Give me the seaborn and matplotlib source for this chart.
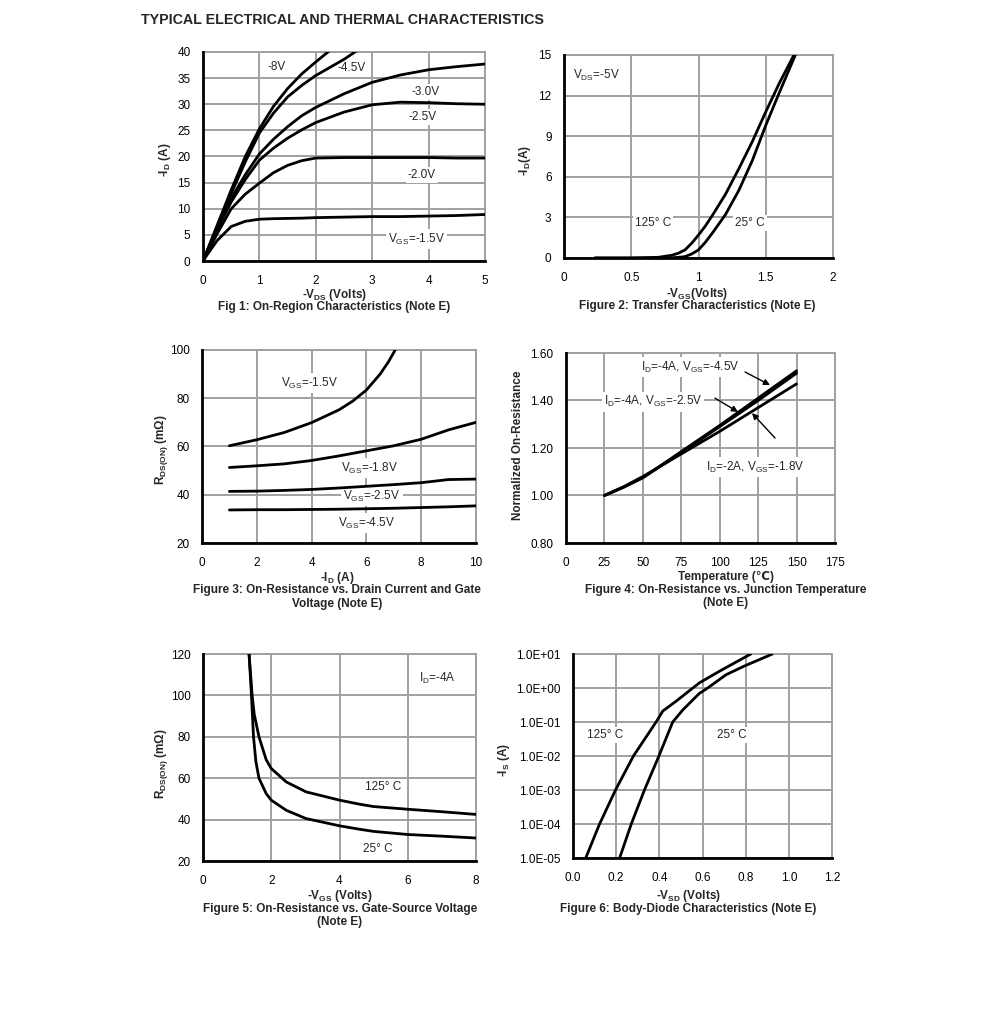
import numpy as np
import pandas as pd
import seaborn as sns
import matplotlib.pyplot as plt
from matplotlib.ticker import FixedLocator, FuncFormatter

sns.set_theme(style="white")
plt.rcParams['font.family'] = ['Liberation Sans', 'DejaVu Sans']
plt.rcParams['mathtext.default'] = 'regular'

W, H = 991, 1021
GRID = '#a0a0a0'
LW = 2.0
TICK_FS = 8.5
LAB_FS = 8.5

# ---- Fig 1: on-region characteristics ----
vds = [0, 0.1, 0.25, 0.5, 0.75, 1, 1.25, 1.5, 1.75, 2, 2.5, 3, 3.5, 4, 4.5, 5]
id_15 = [0, 1.6, 3.9, 6.6, 7.6, 8.0, 8.1, 8.15, 8.2, 8.3, 8.4, 8.5, 8.5, 8.6, 8.7, 8.9]
id_20 = [0, 2.0, 5.2, 10.0, 12.8, 14.9, 16.9, 18.3, 19.2, 19.7, 19.8, 19.8, 19.8, 19.8, 19.7, 19.7]
id_25 = [0, 2.4, 6.0, 11.3, 15.6, 19.3, 21.6, 23.5, 25.1, 26.5, 28.5, 29.9, 30.4, 30.3, 30.1, 30.0]
id_30 = [0, 2.5, 6.3, 12.0, 16.5, 20.5, 23.3, 25.7, 27.8, 29.4, 32.0, 34.2, 35.6, 36.6, 37.2, 37.7]
vds_45 = [0, 0.1, 0.25, 0.5, 0.75, 1, 1.25, 1.5, 1.75, 2, 2.5, 2.75]
id_45 = [0, 2.6, 6.6, 12.9, 19.0, 24.5, 28.3, 31.4, 33.6, 35.5, 38.6, 40.4]
vds_8 = [0, 0.1, 0.25, 0.5, 0.75, 1, 1.25, 1.5, 1.75, 2, 2.25]
id_8 = [0, 2.7, 6.8, 13.6, 20.0, 25.3, 29.6, 33.0, 35.8, 38.1, 40.3]

# ---- Fig 2: transfer characteristics ----
vgs_t = [0.23, 0.5, 0.7, 0.8, 0.85, 0.9, 0.95, 1.0, 1.05, 1.1, 1.15, 1.2, 1.3, 1.4, 1.5, 1.6, 1.72]
id_125 = [0, 0.0, 0.05, 0.2, 0.35, 0.6, 1.1, 1.7, 2.35, 3.1, 3.9, 4.7, 6.6, 8.6, 10.8, 12.9, 15.2]
id_25c = [0, 0.0, 0.0, 0.02, 0.05, 0.1, 0.3, 0.6, 1.15, 1.8, 2.5, 3.2, 5.0, 7.2, 9.8, 12.2, 15.0]

# ---- Fig 3: Rds(on) vs drain current ----
id_r = [1, 2, 3, 4, 5, 6, 7, 8, 9, 10]
id_r15 = [1, 2, 3, 4, 5, 5.5, 6, 6.5, 6.8, 7.1]
r_15 = [60.3, 62.8, 65.8, 69.9, 75.2, 78.8, 83.4, 90.0, 95.0, 101.0]
r_18 = [51.3, 52.0, 52.8, 54.2, 56.1, 58.2, 60.3, 63.0, 66.9, 70.0]
r_25 = [41.4, 41.5, 41.8, 42.2, 42.8, 43.5, 44.2, 45.0, 46.3, 46.5]
r_45 = [33.7, 33.8, 33.8, 33.9, 34.0, 34.2, 34.4, 34.7, 35.0, 35.4]

# ---- Fig 4: normalized Rds(on) vs temperature ----
temp = [25, 37.5, 50, 75, 100, 125, 150]
n_45 = [1.00, 1.035, 1.075, 1.185, 1.295, 1.41, 1.525]
n_25 = [1.00, 1.035, 1.075, 1.18, 1.29, 1.40, 1.515]
n_18 = [1.00, 1.037, 1.08, 1.175, 1.27, 1.37, 1.47]

# ---- Fig 5: Rds(on) vs gate voltage ----
vgs_25 = [1.35, 1.42, 1.48, 1.55, 1.64, 1.85, 2.0, 2.44, 3.02, 4, 4.6, 5, 6, 7, 8]
r_25c = [120, 100, 80, 68, 60, 52.6, 49.4, 44.5, 40.5, 37, 35.3, 34.3, 32.8, 32, 31.1]
vgs_125 = [1.35, 1.44, 1.5, 1.64, 1.85, 2.0, 2.44, 3.02, 4, 4.6, 5, 6, 7, 8]
r_125c = [120, 100, 91, 80, 69, 64.7, 58.2, 53.4, 49.4, 47.4, 46.3, 45, 43.8, 42.5]

# ---- Fig 6: body diode ----
vsd_125 = [0.059, 0.123, 0.197, 0.28, 0.385, 0.416, 0.478, 0.585, 0.678, 0.77, 0.824]
is_125 = [1e-5, 1e-4, 1e-3, 1e-2, 1e-1, 0.21, 0.41, 1.41, 3.1, 6.5, 10.0]
vsd_25 = [0.216, 0.27, 0.331, 0.398, 0.462, 0.508, 0.585, 0.624, 0.709, 0.793, 0.924]
is_25 = [1e-5, 1e-4, 1e-3, 1e-2, 1e-1, 0.224, 0.69, 1.0, 2.45, 4.4, 10.0]


def make_ax(fig, box):
    x0, y0, x1, y1 = box
    ax = fig.add_axes([x0 / W, 1 - y1 / H, (x1 - x0) / W, (y1 - y0) / H])
    return ax


def style_ax(ax, xt, yt, xfmt=None, yfmt=None):
    ax.xaxis.set_major_locator(FixedLocator(xt))
    ax.yaxis.set_major_locator(FixedLocator(yt))
    if xfmt:
        ax.xaxis.set_major_formatter(FuncFormatter(xfmt))
    if yfmt:
        ax.yaxis.set_major_formatter(FuncFormatter(yfmt))
    ax.grid(True, which='major', color=GRID, lw=1.4, zorder=0)
    ax.set_axisbelow(True)
    for s in ['top', 'right']:
        ax.spines[s].set_color(GRID)
        ax.spines[s].set_linewidth(1.4)
    for s in ['left', 'bottom']:
        ax.spines[s].set_color('black')
        ax.spines[s].set_linewidth(2.0)
        ax.spines[s].set_zorder(5)
    ax.tick_params(axis='both', length=0, labelsize=TICK_FS, colors='black')
    ax.tick_params(axis='x', pad=10)
    ax.tick_params(axis='y', pad=9)
    ax.set_xlabel('')
    ax.set_ylabel('')
    leg = ax.get_legend()
    if leg:
        leg.remove()


def line(ax, x, y):
    sns.lineplot(x=x, y=y, ax=ax, color='black', lw=LW, estimator=None, sort=False, zorder=3)


def label(ax, x, y, s, **kw):
    ax.text(x, y, s, fontsize=LAB_FS, ha='center', va='center', zorder=2,
            bbox=dict(facecolor='white', edgecolor='none', pad=1.5), **kw)


def ftext(fig, X, Y, s, size=8.5, bold=True, rot=0):
    fig.text(X / W, 1 - Y / H, s, fontsize=size, ha='center', va='center',
             fontweight='bold' if bold else 'normal', rotation=rot)


fig = plt.figure(figsize=(W / 100, H / 100), dpi=100)
fig.text(141 / W, 1 - 20 / H, 'TYPICAL ELECTRICAL AND THERMAL CHARACTERISTICS',
         fontsize=10.3, fontweight='bold', ha='left', va='center')

# Fig 1
ax = make_ax(fig, (203, 52, 485, 261))
for x, y in [(vds, id_15), (vds, id_20), (vds, id_25), (vds, id_30), (vds_45, id_45), (vds_8, id_8)]:
    line(ax, x, y)
ax.set_xlim(0, 5)
ax.set_ylim(0, 40)
style_ax(ax, range(0, 6), range(0, 41, 5))
label(ax, 1.31, 37.1, '-8V')
label(ax, 2.64, 36.9, '-4.5V')
label(ax, 3.94, 32.3, '-3.0V')
label(ax, 3.90, 27.5, '-2.5V')
label(ax, 3.88, 16.5, '-2.0V')
label(ax, 3.79, 4.2, 'V$_{GS}$=-1.5V')
ftext(fig, 165, 160, '-I$_D$ (A)', rot=90)
ftext(fig, 334, 295, '-V$_{DS}$ (Volts)')
ftext(fig, 334, 307, 'Fig 1: On-Region Characteristics (Note E)')

# Fig 2
ax = make_ax(fig, (564, 55, 833, 258))
line(ax, vgs_t, id_125)
line(ax, vgs_t, id_25c)
ax.set_xlim(0, 2)
ax.set_ylim(0, 15)
style_ax(ax, [0, 0.5, 1, 1.5, 2], range(0, 16, 3),
         xfmt=lambda v, p: f'{v:g}')
label(ax, 0.24, 13.5, 'V$_{DS}$=-5V')
label(ax, 0.66, 2.6, '125° C')
label(ax, 1.38, 2.6, '25° C')
ftext(fig, 525, 160, '-I$_D$(A)', rot=90)
ftext(fig, 697, 294, '-V$_{GS}$(Volts)')
ftext(fig, 697, 306, 'Figure 2: Transfer Characteristics (Note E)')

# Fig 3
ax = make_ax(fig, (202, 350, 476, 543))
line(ax, id_r15, r_15)
line(ax, id_r, r_18)
line(ax, id_r, r_25)
line(ax, id_r, r_45)
ax.set_xlim(0, 10)
ax.set_ylim(20, 100)
style_ax(ax, range(0, 11, 2), range(20, 101, 20))
label(ax, 3.94, 86.3, 'V$_{GS}$=-1.5V')
label(ax, 6.13, 51.1, 'V$_{GS}$=-1.8V')
label(ax, 6.2, 39.5, 'V$_{GS}$=-2.5V')
label(ax, 6.02, 28.3, 'V$_{GS}$=-4.5V')
ftext(fig, 161, 450, 'R$_{DS(ON)}$ (mΩ)', rot=90)
ftext(fig, 337, 578, '-I$_D$ (A)')
ftext(fig, 337, 590, 'Figure 3: On-Resistance vs. Drain Current and Gate')
ftext(fig, 337, 604, 'Voltage (Note E)')

# Fig 4
ax = make_ax(fig, (566, 353, 835, 543))
line(ax, temp, n_45)
line(ax, temp, n_25)
line(ax, temp, n_18)
ax.set_xlim(0, 175)
ax.set_ylim(0.8, 1.6)
style_ax(ax, range(0, 176, 25), [0.8, 1.0, 1.2, 1.4, 1.6],
         yfmt=lambda v, p: f'{v:.2f}')
label(ax, 80.7, 1.541, 'I$_D$=-4A, V$_{GS}$=-4.5V')
label(ax, 56.6, 1.394, 'I$_D$=-4A, V$_{GS}$=-2.5V')
label(ax, 123, 1.12, 'I$_D$=-2A, V$_{GS}$=-1.8V')
arr = dict(arrowstyle='-|>', color='black', lw=1.0, mutation_scale=9, shrinkA=0, shrinkB=0)
ax.annotate('', xy=(132.7, 1.465), xytext=(116.5, 1.52), arrowprops=arr, zorder=4)
ax.annotate('', xy=(111.9, 1.352), xytext=(96.9, 1.41), arrowprops=arr, zorder=4)
ax.annotate('', xy=(121, 1.347), xytext=(136, 1.242), arrowprops=arr, zorder=4)
ftext(fig, 518, 445, 'Normalized On-Resistance', rot=90)
ftext(fig, 726, 577, 'Temperature (℃)')
ftext(fig, 726, 590, 'Figure 4: On-Resistance vs. Junction Temperature')
ftext(fig, 726, 603, '(Note E)')

# Fig 5
ax = make_ax(fig, (203, 654, 476, 861))
line(ax, vgs_25, r_25c)
line(ax, vgs_125, r_125c)
ax.set_xlim(0, 8)
ax.set_ylim(20, 120)
style_ax(ax, range(0, 9, 2), range(20, 121, 20))
label(ax, 6.86, 108.4, 'I$_D$=-4A')
label(ax, 5.28, 55.7, '125° C')
label(ax, 5.13, 25.8, '25° C')
ftext(fig, 161, 764, 'R$_{DS(ON)}$ (mΩ)', rot=90)
ftext(fig, 340, 896, '-V$_{GS}$ (Volts)')
ftext(fig, 340, 909, 'Figure 5: On-Resistance vs. Gate-Source Voltage')
ftext(fig, 340, 922, '(Note E)')

# Fig 6
ax = make_ax(fig, (573, 654, 832, 858))
line(ax, vsd_125, is_125)
line(ax, vsd_25, is_25)
ax.set_yscale('log')
ax.set_xlim(0, 1.2)
ax.set_ylim(1e-5, 10)
style_ax(ax, [0, 0.2, 0.4, 0.6, 0.8, 1.0, 1.2], [10.0 ** k for k in range(-5, 2)],
         xfmt=lambda v, p: f'{v:.1f}', yfmt=lambda v, p: f'{v:.1E}')
ax.yaxis.set_minor_locator(FixedLocator([]))
label(ax, 0.148, 0.042, '125° C')
label(ax, 0.737, 0.042, '25° C')
ftext(fig, 504, 760, '-I$_S$ (A)', rot=90)
ftext(fig, 688, 896, '-V$_{SD}$ (Volts)')
ftext(fig, 688, 909, 'Figure 6: Body-Diode Characteristics (Note E)')

fig.savefig('out.png', dpi=100)
